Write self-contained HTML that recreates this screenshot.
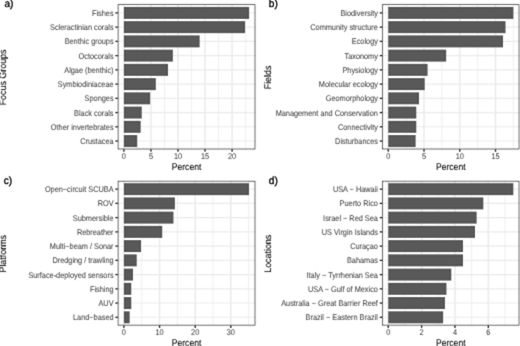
<!DOCTYPE html>
<html><head><meta charset="utf-8"><style>
html,body{margin:0;padding:0;background:#fff;}
body{width:520px;height:346px;overflow:hidden;}
#w{width:520px;height:346px;will-change:transform;}
svg{display:block;font-family:"Liberation Sans", sans-serif;text-rendering:geometricPrecision;}
.t{font-size:7.33px;fill:#474747;stroke:#474747;stroke-width:0.05px;}
.ti{font-size:8.6px;fill:#000;stroke:#000;stroke-width:0.05px;}
.lb{font-size:10.1px;font-weight:normal;fill:#000;stroke:#000;stroke-width:0.3px;}
</style></head><body><div id="w">
<svg width="520" height="346" viewBox="0 0 520 346">
<defs><filter id="bl" filterUnits="userSpaceOnUse" x="-10" y="-10" width="540" height="366" color-interpolation-filters="sRGB"><feConvolveMatrix order="5" kernelMatrix="0.00207 -0.00758 -0.03444 -0.00758 0.00207 -0.00758 0.02778 0.12626 0.02778 -0.00758 -0.03444 0.12626 0.57392 0.12626 -0.03444 -0.00758 0.02778 0.12626 0.02778 -0.00758 0.00207 -0.00758 -0.03444 -0.00758 0.00207" edgeMode="duplicate" preserveAlpha="true"/></filter></defs>
<g filter="url(#bl)">
<rect x="-10" y="-10" width="540" height="366" fill="#fff"/>
<line x1="137.43" y1="4.3" x2="137.43" y2="149.35" stroke="#EBEBEB" stroke-width="0.8"/>
<line x1="164.48" y1="4.3" x2="164.48" y2="149.35" stroke="#EBEBEB" stroke-width="0.8"/>
<line x1="191.53" y1="4.3" x2="191.53" y2="149.35" stroke="#EBEBEB" stroke-width="0.8"/>
<line x1="218.57" y1="4.3" x2="218.57" y2="149.35" stroke="#EBEBEB" stroke-width="0.8"/>
<line x1="245.62" y1="4.3" x2="245.62" y2="149.35" stroke="#EBEBEB" stroke-width="0.8"/>
<line x1="123.9" y1="4.3" x2="123.9" y2="149.35" stroke="#EBEBEB" stroke-width="1.5"/>
<line x1="150.95" y1="4.3" x2="150.95" y2="149.35" stroke="#EBEBEB" stroke-width="1.5"/>
<line x1="178" y1="4.3" x2="178" y2="149.35" stroke="#EBEBEB" stroke-width="1.5"/>
<line x1="205.05" y1="4.3" x2="205.05" y2="149.35" stroke="#EBEBEB" stroke-width="1.5"/>
<line x1="232.1" y1="4.3" x2="232.1" y2="149.35" stroke="#EBEBEB" stroke-width="1.5"/>
<line x1="117.75" y1="12.9" x2="255.35" y2="12.9" stroke="#EBEBEB" stroke-width="1.1"/>
<line x1="117.75" y1="27.14" x2="255.35" y2="27.14" stroke="#EBEBEB" stroke-width="1.1"/>
<line x1="117.75" y1="41.38" x2="255.35" y2="41.38" stroke="#EBEBEB" stroke-width="1.1"/>
<line x1="117.75" y1="55.62" x2="255.35" y2="55.62" stroke="#EBEBEB" stroke-width="1.1"/>
<line x1="117.75" y1="69.86" x2="255.35" y2="69.86" stroke="#EBEBEB" stroke-width="1.1"/>
<line x1="117.75" y1="84.1" x2="255.35" y2="84.1" stroke="#EBEBEB" stroke-width="1.1"/>
<line x1="117.75" y1="98.34" x2="255.35" y2="98.34" stroke="#EBEBEB" stroke-width="1.1"/>
<line x1="117.75" y1="112.58" x2="255.35" y2="112.58" stroke="#EBEBEB" stroke-width="1.1"/>
<line x1="117.75" y1="126.82" x2="255.35" y2="126.82" stroke="#EBEBEB" stroke-width="1.1"/>
<line x1="117.75" y1="141.06" x2="255.35" y2="141.06" stroke="#EBEBEB" stroke-width="1.1"/>
<rect x="123.9" y="6.9" width="125.24" height="12" fill="#595959"/>
<rect x="123.9" y="21.14" width="121.18" height="12" fill="#595959"/>
<rect x="123.9" y="35.38" width="75.74" height="12" fill="#595959"/>
<rect x="123.9" y="49.62" width="48.96" height="12" fill="#595959"/>
<rect x="123.9" y="63.86" width="44.09" height="12" fill="#595959"/>
<rect x="123.9" y="78.1" width="31.92" height="12" fill="#595959"/>
<rect x="123.9" y="92.34" width="26.24" height="12" fill="#595959"/>
<rect x="123.9" y="106.58" width="17.85" height="12" fill="#595959"/>
<rect x="123.9" y="120.82" width="16.77" height="12" fill="#595959"/>
<rect x="123.9" y="135.06" width="13.25" height="12" fill="#595959"/>
<rect x="118.1" y="4.65" width="136.9" height="144.35" fill="none" stroke="#333333" stroke-width="0.7"/>
<line x1="115.35" y1="12.9" x2="117.75" y2="12.9" stroke="#262626" stroke-width="1.3"/>
<text class="t" transform="translate(113.55,15.85) scale(1,1.13)" text-anchor="end">Fishes</text>
<line x1="115.35" y1="27.14" x2="117.75" y2="27.14" stroke="#262626" stroke-width="1.3"/>
<text class="t" transform="translate(113.55,30.09) scale(1,1.13)" text-anchor="end">Scleractinian corals</text>
<line x1="115.35" y1="41.38" x2="117.75" y2="41.38" stroke="#262626" stroke-width="1.3"/>
<text class="t" transform="translate(113.55,44.33) scale(1,1.13)" text-anchor="end">Benthic groups</text>
<line x1="115.35" y1="55.62" x2="117.75" y2="55.62" stroke="#262626" stroke-width="1.3"/>
<text class="t" transform="translate(113.55,58.57) scale(1,1.13)" text-anchor="end">Octocorals</text>
<line x1="115.35" y1="69.86" x2="117.75" y2="69.86" stroke="#262626" stroke-width="1.3"/>
<text class="t" transform="translate(113.55,72.81) scale(1,1.13)" text-anchor="end">Algae (benthic)</text>
<line x1="115.35" y1="84.1" x2="117.75" y2="84.1" stroke="#262626" stroke-width="1.3"/>
<text class="t" transform="translate(113.55,87.05) scale(1,1.13)" text-anchor="end">Symbiodiniaceae</text>
<line x1="115.35" y1="98.34" x2="117.75" y2="98.34" stroke="#262626" stroke-width="1.3"/>
<text class="t" transform="translate(113.55,101.29) scale(1,1.13)" text-anchor="end">Sponges</text>
<line x1="115.35" y1="112.58" x2="117.75" y2="112.58" stroke="#262626" stroke-width="1.3"/>
<text class="t" transform="translate(113.55,115.53) scale(1,1.13)" text-anchor="end">Black corals</text>
<line x1="115.35" y1="126.82" x2="117.75" y2="126.82" stroke="#262626" stroke-width="1.3"/>
<text class="t" transform="translate(113.55,129.77) scale(1,1.13)" text-anchor="end">Other invertebrates</text>
<line x1="115.35" y1="141.06" x2="117.75" y2="141.06" stroke="#262626" stroke-width="1.3"/>
<text class="t" transform="translate(113.55,144.01) scale(1,1.13)" text-anchor="end">Crustacea</text>
<line x1="123.9" y1="149.35" x2="123.9" y2="151.75" stroke="#262626" stroke-width="1.3"/>
<text class="t" transform="translate(123.9,158.55) scale(1,1.13)" text-anchor="middle">0</text>
<line x1="150.95" y1="149.35" x2="150.95" y2="151.75" stroke="#262626" stroke-width="1.3"/>
<text class="t" transform="translate(150.95,158.55) scale(1,1.13)" text-anchor="middle">5</text>
<line x1="178" y1="149.35" x2="178" y2="151.75" stroke="#262626" stroke-width="1.3"/>
<text class="t" transform="translate(178,158.55) scale(1,1.13)" text-anchor="middle">10</text>
<line x1="205.05" y1="149.35" x2="205.05" y2="151.75" stroke="#262626" stroke-width="1.3"/>
<text class="t" transform="translate(205.05,158.55) scale(1,1.13)" text-anchor="middle">15</text>
<line x1="232.1" y1="149.35" x2="232.1" y2="151.75" stroke="#262626" stroke-width="1.3"/>
<text class="t" transform="translate(232.1,158.55) scale(1,1.13)" text-anchor="middle">20</text>
<text class="ti" transform="translate(186.55,169.65) scale(1,1.12)" text-anchor="middle">Percent</text>
<text class="ti" transform="translate(6.45,77.42) rotate(-90) scale(1.035,1.12)" text-anchor="middle">Focus Groups</text>
<text class="lb" transform="translate(4.5,7.3) scale(1,1.04)">a)</text>
<line x1="406.12" y1="4.3" x2="406.12" y2="149.35" stroke="#EBEBEB" stroke-width="0.8"/>
<line x1="441.88" y1="4.3" x2="441.88" y2="149.35" stroke="#EBEBEB" stroke-width="0.8"/>
<line x1="477.62" y1="4.3" x2="477.62" y2="149.35" stroke="#EBEBEB" stroke-width="0.8"/>
<line x1="513.38" y1="4.3" x2="513.38" y2="149.35" stroke="#EBEBEB" stroke-width="0.8"/>
<line x1="388.25" y1="4.3" x2="388.25" y2="149.35" stroke="#EBEBEB" stroke-width="1.5"/>
<line x1="424" y1="4.3" x2="424" y2="149.35" stroke="#EBEBEB" stroke-width="1.5"/>
<line x1="459.75" y1="4.3" x2="459.75" y2="149.35" stroke="#EBEBEB" stroke-width="1.5"/>
<line x1="495.5" y1="4.3" x2="495.5" y2="149.35" stroke="#EBEBEB" stroke-width="1.5"/>
<line x1="382.1" y1="12.9" x2="519.4" y2="12.9" stroke="#EBEBEB" stroke-width="1.1"/>
<line x1="382.1" y1="27.14" x2="519.4" y2="27.14" stroke="#EBEBEB" stroke-width="1.1"/>
<line x1="382.1" y1="41.38" x2="519.4" y2="41.38" stroke="#EBEBEB" stroke-width="1.1"/>
<line x1="382.1" y1="55.62" x2="519.4" y2="55.62" stroke="#EBEBEB" stroke-width="1.1"/>
<line x1="382.1" y1="69.86" x2="519.4" y2="69.86" stroke="#EBEBEB" stroke-width="1.1"/>
<line x1="382.1" y1="84.1" x2="519.4" y2="84.1" stroke="#EBEBEB" stroke-width="1.1"/>
<line x1="382.1" y1="98.34" x2="519.4" y2="98.34" stroke="#EBEBEB" stroke-width="1.1"/>
<line x1="382.1" y1="112.58" x2="519.4" y2="112.58" stroke="#EBEBEB" stroke-width="1.1"/>
<line x1="382.1" y1="126.82" x2="519.4" y2="126.82" stroke="#EBEBEB" stroke-width="1.1"/>
<line x1="382.1" y1="141.06" x2="519.4" y2="141.06" stroke="#EBEBEB" stroke-width="1.1"/>
<rect x="388.25" y="6.9" width="125.12" height="12" fill="#595959"/>
<rect x="388.25" y="21.14" width="117.26" height="12" fill="#595959"/>
<rect x="388.25" y="35.38" width="114.76" height="12" fill="#595959"/>
<rect x="388.25" y="49.62" width="57.91" height="12" fill="#595959"/>
<rect x="388.25" y="63.86" width="39.33" height="12" fill="#595959"/>
<rect x="388.25" y="78.1" width="36.46" height="12" fill="#595959"/>
<rect x="388.25" y="92.34" width="30.75" height="12" fill="#595959"/>
<rect x="388.25" y="106.58" width="28.03" height="12" fill="#595959"/>
<rect x="388.25" y="120.82" width="28.03" height="12" fill="#595959"/>
<rect x="388.25" y="135.06" width="27.38" height="12" fill="#595959"/>
<rect x="382.45" y="4.65" width="136.6" height="144.35" fill="none" stroke="#333333" stroke-width="0.7"/>
<line x1="379.7" y1="12.9" x2="382.1" y2="12.9" stroke="#262626" stroke-width="1.3"/>
<text class="t" transform="translate(377.9,15.85) scale(1,1.13)" text-anchor="end">Biodiversity</text>
<line x1="379.7" y1="27.14" x2="382.1" y2="27.14" stroke="#262626" stroke-width="1.3"/>
<text class="t" transform="translate(377.9,30.09) scale(1,1.13)" text-anchor="end">Community structure</text>
<line x1="379.7" y1="41.38" x2="382.1" y2="41.38" stroke="#262626" stroke-width="1.3"/>
<text class="t" transform="translate(377.9,44.33) scale(1,1.13)" text-anchor="end">Ecology</text>
<line x1="379.7" y1="55.62" x2="382.1" y2="55.62" stroke="#262626" stroke-width="1.3"/>
<text class="t" transform="translate(377.9,58.57) scale(1,1.13)" text-anchor="end">Taxonomy</text>
<line x1="379.7" y1="69.86" x2="382.1" y2="69.86" stroke="#262626" stroke-width="1.3"/>
<text class="t" transform="translate(377.9,72.81) scale(1,1.13)" text-anchor="end">Physiology</text>
<line x1="379.7" y1="84.1" x2="382.1" y2="84.1" stroke="#262626" stroke-width="1.3"/>
<text class="t" transform="translate(377.9,87.05) scale(1,1.13)" text-anchor="end">Molecular ecology</text>
<line x1="379.7" y1="98.34" x2="382.1" y2="98.34" stroke="#262626" stroke-width="1.3"/>
<text class="t" transform="translate(377.9,101.29) scale(1,1.13)" text-anchor="end">Geomorphology</text>
<line x1="379.7" y1="112.58" x2="382.1" y2="112.58" stroke="#262626" stroke-width="1.3"/>
<text class="t" transform="translate(377.9,115.53) scale(1,1.13)" text-anchor="end">Management and Conservation</text>
<line x1="379.7" y1="126.82" x2="382.1" y2="126.82" stroke="#262626" stroke-width="1.3"/>
<text class="t" transform="translate(377.9,129.77) scale(1,1.13)" text-anchor="end">Connectivity</text>
<line x1="379.7" y1="141.06" x2="382.1" y2="141.06" stroke="#262626" stroke-width="1.3"/>
<text class="t" transform="translate(377.9,144.01) scale(1,1.13)" text-anchor="end">Disturbances</text>
<line x1="388.25" y1="149.35" x2="388.25" y2="151.75" stroke="#262626" stroke-width="1.3"/>
<text class="t" transform="translate(388.25,158.55) scale(1,1.13)" text-anchor="middle">0</text>
<line x1="424" y1="149.35" x2="424" y2="151.75" stroke="#262626" stroke-width="1.3"/>
<text class="t" transform="translate(424,158.55) scale(1,1.13)" text-anchor="middle">5</text>
<line x1="459.75" y1="149.35" x2="459.75" y2="151.75" stroke="#262626" stroke-width="1.3"/>
<text class="t" transform="translate(459.75,158.55) scale(1,1.13)" text-anchor="middle">10</text>
<line x1="495.5" y1="149.35" x2="495.5" y2="151.75" stroke="#262626" stroke-width="1.3"/>
<text class="t" transform="translate(495.5,158.55) scale(1,1.13)" text-anchor="middle">15</text>
<text class="ti" transform="translate(450.75,169.65) scale(1,1.12)" text-anchor="middle">Percent</text>
<text class="ti" transform="translate(271.15,77.42) rotate(-90) scale(1.035,1.12)" text-anchor="middle">Fields</text>
<text class="lb" transform="translate(268.8,7.3) scale(1,1.04)">b)</text>
<line x1="141.72" y1="180.85" x2="141.72" y2="325.5" stroke="#EBEBEB" stroke-width="0.8"/>
<line x1="177.38" y1="180.85" x2="177.38" y2="325.5" stroke="#EBEBEB" stroke-width="0.8"/>
<line x1="213.03" y1="180.85" x2="213.03" y2="325.5" stroke="#EBEBEB" stroke-width="0.8"/>
<line x1="248.68" y1="180.85" x2="248.68" y2="325.5" stroke="#EBEBEB" stroke-width="0.8"/>
<line x1="123.9" y1="180.85" x2="123.9" y2="325.5" stroke="#EBEBEB" stroke-width="1.5"/>
<line x1="159.55" y1="180.85" x2="159.55" y2="325.5" stroke="#EBEBEB" stroke-width="1.5"/>
<line x1="195.2" y1="180.85" x2="195.2" y2="325.5" stroke="#EBEBEB" stroke-width="1.5"/>
<line x1="230.85" y1="180.85" x2="230.85" y2="325.5" stroke="#EBEBEB" stroke-width="1.5"/>
<line x1="117.75" y1="189.15" x2="255.35" y2="189.15" stroke="#EBEBEB" stroke-width="1.1"/>
<line x1="117.75" y1="203.39" x2="255.35" y2="203.39" stroke="#EBEBEB" stroke-width="1.1"/>
<line x1="117.75" y1="217.63" x2="255.35" y2="217.63" stroke="#EBEBEB" stroke-width="1.1"/>
<line x1="117.75" y1="231.87" x2="255.35" y2="231.87" stroke="#EBEBEB" stroke-width="1.1"/>
<line x1="117.75" y1="246.11" x2="255.35" y2="246.11" stroke="#EBEBEB" stroke-width="1.1"/>
<line x1="117.75" y1="260.35" x2="255.35" y2="260.35" stroke="#EBEBEB" stroke-width="1.1"/>
<line x1="117.75" y1="274.59" x2="255.35" y2="274.59" stroke="#EBEBEB" stroke-width="1.1"/>
<line x1="117.75" y1="288.83" x2="255.35" y2="288.83" stroke="#EBEBEB" stroke-width="1.1"/>
<line x1="117.75" y1="303.07" x2="255.35" y2="303.07" stroke="#EBEBEB" stroke-width="1.1"/>
<line x1="117.75" y1="317.31" x2="255.35" y2="317.31" stroke="#EBEBEB" stroke-width="1.1"/>
<rect x="123.9" y="183.15" width="125.13" height="12" fill="#595959"/>
<rect x="123.9" y="197.39" width="50.98" height="12" fill="#595959"/>
<rect x="123.9" y="211.63" width="49.55" height="12" fill="#595959"/>
<rect x="123.9" y="225.87" width="38.32" height="12" fill="#595959"/>
<rect x="123.9" y="240.11" width="17.11" height="12" fill="#595959"/>
<rect x="123.9" y="254.35" width="12.83" height="12" fill="#595959"/>
<rect x="123.9" y="268.59" width="9.09" height="12" fill="#595959"/>
<rect x="123.9" y="282.83" width="7.38" height="12" fill="#595959"/>
<rect x="123.9" y="297.07" width="7.38" height="12" fill="#595959"/>
<rect x="123.9" y="311.31" width="5.78" height="12" fill="#595959"/>
<rect x="118.1" y="181.2" width="136.9" height="143.95" fill="none" stroke="#333333" stroke-width="0.7"/>
<line x1="115.35" y1="189.15" x2="117.75" y2="189.15" stroke="#262626" stroke-width="1.3"/>
<text class="t" transform="translate(113.55,192.1) scale(1,1.13)" text-anchor="end">Open−circuit SCUBA</text>
<line x1="115.35" y1="203.39" x2="117.75" y2="203.39" stroke="#262626" stroke-width="1.3"/>
<text class="t" transform="translate(113.55,206.34) scale(1,1.13)" text-anchor="end">ROV</text>
<line x1="115.35" y1="217.63" x2="117.75" y2="217.63" stroke="#262626" stroke-width="1.3"/>
<text class="t" transform="translate(113.55,220.58) scale(1,1.13)" text-anchor="end">Submersible</text>
<line x1="115.35" y1="231.87" x2="117.75" y2="231.87" stroke="#262626" stroke-width="1.3"/>
<text class="t" transform="translate(113.55,234.82) scale(1,1.13)" text-anchor="end">Rebreather</text>
<line x1="115.35" y1="246.11" x2="117.75" y2="246.11" stroke="#262626" stroke-width="1.3"/>
<text class="t" transform="translate(113.55,249.06) scale(1,1.13)" text-anchor="end">Multi−beam / Sonar</text>
<line x1="115.35" y1="260.35" x2="117.75" y2="260.35" stroke="#262626" stroke-width="1.3"/>
<text class="t" transform="translate(113.55,263.3) scale(1,1.13)" text-anchor="end">Dredging / trawling</text>
<line x1="115.35" y1="274.59" x2="117.75" y2="274.59" stroke="#262626" stroke-width="1.3"/>
<text class="t" transform="translate(113.55,277.54) scale(1,1.13)" text-anchor="end">Surface-deployed sensors</text>
<line x1="115.35" y1="288.83" x2="117.75" y2="288.83" stroke="#262626" stroke-width="1.3"/>
<text class="t" transform="translate(113.55,291.78) scale(1,1.13)" text-anchor="end">Fishing</text>
<line x1="115.35" y1="303.07" x2="117.75" y2="303.07" stroke="#262626" stroke-width="1.3"/>
<text class="t" transform="translate(113.55,306.02) scale(1,1.13)" text-anchor="end">AUV</text>
<line x1="115.35" y1="317.31" x2="117.75" y2="317.31" stroke="#262626" stroke-width="1.3"/>
<text class="t" transform="translate(113.55,320.26) scale(1,1.13)" text-anchor="end">Land−based</text>
<line x1="123.9" y1="325.5" x2="123.9" y2="327.9" stroke="#262626" stroke-width="1.3"/>
<text class="t" transform="translate(123.9,334.7) scale(1,1.13)" text-anchor="middle">0</text>
<line x1="159.55" y1="325.5" x2="159.55" y2="327.9" stroke="#262626" stroke-width="1.3"/>
<text class="t" transform="translate(159.55,334.7) scale(1,1.13)" text-anchor="middle">10</text>
<line x1="195.2" y1="325.5" x2="195.2" y2="327.9" stroke="#262626" stroke-width="1.3"/>
<text class="t" transform="translate(195.2,334.7) scale(1,1.13)" text-anchor="middle">20</text>
<line x1="230.85" y1="325.5" x2="230.85" y2="327.9" stroke="#262626" stroke-width="1.3"/>
<text class="t" transform="translate(230.85,334.7) scale(1,1.13)" text-anchor="middle">30</text>
<text class="ti" transform="translate(186.55,345.8) scale(1,1.12)" text-anchor="middle">Percent</text>
<text class="ti" transform="translate(6.45,253.78) rotate(-90) scale(1.035,1.12)" text-anchor="middle">Platforms</text>
<text class="lb" transform="translate(3.7,183.7) scale(1,1.04)">c)</text>
<line x1="404.93" y1="180.85" x2="404.93" y2="325.5" stroke="#EBEBEB" stroke-width="0.8"/>
<line x1="438.29" y1="180.85" x2="438.29" y2="325.5" stroke="#EBEBEB" stroke-width="0.8"/>
<line x1="471.65" y1="180.85" x2="471.65" y2="325.5" stroke="#EBEBEB" stroke-width="0.8"/>
<line x1="505.01" y1="180.85" x2="505.01" y2="325.5" stroke="#EBEBEB" stroke-width="0.8"/>
<line x1="388.25" y1="180.85" x2="388.25" y2="325.5" stroke="#EBEBEB" stroke-width="1.5"/>
<line x1="421.61" y1="180.85" x2="421.61" y2="325.5" stroke="#EBEBEB" stroke-width="1.5"/>
<line x1="454.97" y1="180.85" x2="454.97" y2="325.5" stroke="#EBEBEB" stroke-width="1.5"/>
<line x1="488.33" y1="180.85" x2="488.33" y2="325.5" stroke="#EBEBEB" stroke-width="1.5"/>
<line x1="382.1" y1="189.15" x2="519.4" y2="189.15" stroke="#EBEBEB" stroke-width="1.1"/>
<line x1="382.1" y1="203.39" x2="519.4" y2="203.39" stroke="#EBEBEB" stroke-width="1.1"/>
<line x1="382.1" y1="217.63" x2="519.4" y2="217.63" stroke="#EBEBEB" stroke-width="1.1"/>
<line x1="382.1" y1="231.87" x2="519.4" y2="231.87" stroke="#EBEBEB" stroke-width="1.1"/>
<line x1="382.1" y1="246.11" x2="519.4" y2="246.11" stroke="#EBEBEB" stroke-width="1.1"/>
<line x1="382.1" y1="260.35" x2="519.4" y2="260.35" stroke="#EBEBEB" stroke-width="1.1"/>
<line x1="382.1" y1="274.59" x2="519.4" y2="274.59" stroke="#EBEBEB" stroke-width="1.1"/>
<line x1="382.1" y1="288.83" x2="519.4" y2="288.83" stroke="#EBEBEB" stroke-width="1.1"/>
<line x1="382.1" y1="303.07" x2="519.4" y2="303.07" stroke="#EBEBEB" stroke-width="1.1"/>
<line x1="382.1" y1="317.31" x2="519.4" y2="317.31" stroke="#EBEBEB" stroke-width="1.1"/>
<rect x="388.25" y="183.15" width="125.1" height="12" fill="#595959"/>
<rect x="388.25" y="197.39" width="95.08" height="12" fill="#595959"/>
<rect x="388.25" y="211.63" width="88.4" height="12" fill="#595959"/>
<rect x="388.25" y="225.87" width="86.74" height="12" fill="#595959"/>
<rect x="388.25" y="240.11" width="74.73" height="12" fill="#595959"/>
<rect x="388.25" y="254.35" width="74.73" height="12" fill="#595959"/>
<rect x="388.25" y="268.59" width="63.05" height="12" fill="#595959"/>
<rect x="388.25" y="282.83" width="58.21" height="12" fill="#595959"/>
<rect x="388.25" y="297.07" width="56.71" height="12" fill="#595959"/>
<rect x="388.25" y="311.31" width="54.88" height="12" fill="#595959"/>
<rect x="382.45" y="181.2" width="136.6" height="143.95" fill="none" stroke="#333333" stroke-width="0.7"/>
<line x1="379.7" y1="189.15" x2="382.1" y2="189.15" stroke="#262626" stroke-width="1.3"/>
<text class="t" transform="translate(377.9,192.1) scale(1,1.13)" text-anchor="end">USA − Hawaii</text>
<line x1="379.7" y1="203.39" x2="382.1" y2="203.39" stroke="#262626" stroke-width="1.3"/>
<text class="t" transform="translate(377.9,206.34) scale(1,1.13)" text-anchor="end">Puerto Rico</text>
<line x1="379.7" y1="217.63" x2="382.1" y2="217.63" stroke="#262626" stroke-width="1.3"/>
<text class="t" transform="translate(377.9,220.58) scale(1,1.13)" text-anchor="end">Israel − Red Sea</text>
<line x1="379.7" y1="231.87" x2="382.1" y2="231.87" stroke="#262626" stroke-width="1.3"/>
<text class="t" transform="translate(377.9,234.82) scale(1,1.13)" text-anchor="end">US Virgin Islands</text>
<line x1="379.7" y1="246.11" x2="382.1" y2="246.11" stroke="#262626" stroke-width="1.3"/>
<text class="t" transform="translate(377.9,249.06) scale(1,1.13)" text-anchor="end">Curaçao</text>
<line x1="379.7" y1="260.35" x2="382.1" y2="260.35" stroke="#262626" stroke-width="1.3"/>
<text class="t" transform="translate(377.9,263.3) scale(1,1.13)" text-anchor="end">Bahamas</text>
<line x1="379.7" y1="274.59" x2="382.1" y2="274.59" stroke="#262626" stroke-width="1.3"/>
<text class="t" transform="translate(377.9,277.54) scale(1,1.13)" text-anchor="end">Italy − Tyrrhenian Sea</text>
<line x1="379.7" y1="288.83" x2="382.1" y2="288.83" stroke="#262626" stroke-width="1.3"/>
<text class="t" transform="translate(377.9,291.78) scale(1,1.13)" text-anchor="end">USA − Gulf of Mexico</text>
<line x1="379.7" y1="303.07" x2="382.1" y2="303.07" stroke="#262626" stroke-width="1.3"/>
<text class="t" transform="translate(377.9,306.02) scale(1,1.13)" text-anchor="end">Australia − Great Barrier Reef</text>
<line x1="379.7" y1="317.31" x2="382.1" y2="317.31" stroke="#262626" stroke-width="1.3"/>
<text class="t" transform="translate(377.9,320.26) scale(1,1.13)" text-anchor="end">Brazil − Eastern Brazil</text>
<line x1="388.25" y1="325.5" x2="388.25" y2="327.9" stroke="#262626" stroke-width="1.3"/>
<text class="t" transform="translate(388.25,334.7) scale(1,1.13)" text-anchor="middle">0</text>
<line x1="421.61" y1="325.5" x2="421.61" y2="327.9" stroke="#262626" stroke-width="1.3"/>
<text class="t" transform="translate(421.61,334.7) scale(1,1.13)" text-anchor="middle">2</text>
<line x1="454.97" y1="325.5" x2="454.97" y2="327.9" stroke="#262626" stroke-width="1.3"/>
<text class="t" transform="translate(454.97,334.7) scale(1,1.13)" text-anchor="middle">4</text>
<line x1="488.33" y1="325.5" x2="488.33" y2="327.9" stroke="#262626" stroke-width="1.3"/>
<text class="t" transform="translate(488.33,334.7) scale(1,1.13)" text-anchor="middle">6</text>
<text class="ti" transform="translate(450.75,345.8) scale(1,1.12)" text-anchor="middle">Percent</text>
<text class="ti" transform="translate(271.15,253.78) rotate(-90) scale(1.035,1.12)" text-anchor="middle">Locations</text>
<text class="lb" transform="translate(268.8,183.7) scale(1,1.04)">d)</text>
</g>
</svg></div>
</body></html>
